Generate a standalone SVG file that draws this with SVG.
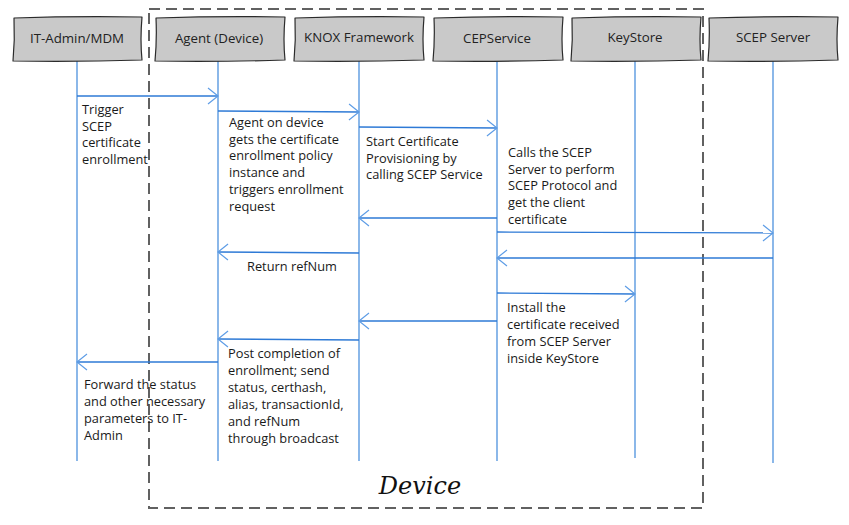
<svg xmlns="http://www.w3.org/2000/svg" width="849" height="525" viewBox="0 0 849 525">
<style>
.hdr{fill:#c9c9c9;stroke:#2b2b2b;stroke-width:1.2;stroke-linejoin:round}
.ht{font-family:"Open Sans","Noto Sans",sans-serif;font-size:13.3px;fill:#222;text-anchor:middle}
.life{stroke:#6ea6e4;stroke-width:1.6;fill:none}
.msg{stroke:#2e7ad6;stroke-width:1.3;fill:none;marker-end:url(#ah)}
.lbl{font-family:"Open Sans","Noto Sans",sans-serif;font-size:12.8px;fill:#1a1a1a}
.dev{fill:none;stroke:#616161;stroke-width:2;stroke-dasharray:11 6}
.devt{font-family:"Segoe Print","Comic Sans MS","DejaVu Serif",cursive;font-size:24px;font-style:italic;fill:#111;text-anchor:middle}
</style>
<defs>
<marker id="ah" markerUnits="userSpaceOnUse" markerWidth="14" markerHeight="18" viewBox="0 0 14 18" refX="11" refY="9" orient="auto">
<path d="M1,1 L11,9 L1,17" fill="none" stroke="#5e9de6" stroke-width="1.2"/>
</marker>
</defs>
<rect class="dev" x="149" y="9" width="554" height="499"/>
<text class="devt" x="420" y="494">Device</text>
<g id="lifelines">
<line class="life" x1="77" y1="61" x2="77" y2="461"/>
<line class="life" x1="218" y1="61" x2="218" y2="461"/>
<line class="life" x1="359" y1="61" x2="359" y2="461"/>
<line class="life" x1="497" y1="61" x2="497" y2="461"/>
<line class="life" x1="635" y1="61" x2="635" y2="458"/>
<line class="life" x1="773" y1="61" x2="773" y2="463"/>
</g>
<g id="n-itadmin"><path class="hdr" d="M14,18 Q75,16 142,17 Q140,40 142,60 Q77,62 13,61 Q15,40 14,18 Z"/><text class="ht" x="77" y="43">IT-Admin/MDM</text></g>
<g id="n-agent"><path class="hdr" d="M156,18 Q220,16 285,17 Q283,40 285,60 Q220,62 155,61 Q157,40 156,18 Z"/><text class="ht" x="219" y="43">Agent (Device)</text></g>
<g id="n-knox"><path class="hdr" d="M295,18 Q360,16 424,17 Q422,40 424,60 Q360,62 294,61 Q296,40 295,18 Z"/><text class="ht" x="359" y="42">KNOX Framework</text></g>
<g id="n-cep"><path class="hdr" d="M434,18 Q498,16 563,17 Q561,40 563,60 Q498,62 433,61 Q435,40 434,18 Z"/><text class="ht" x="497" y="43">CEPService</text></g>
<g id="n-keystore"><path class="hdr" d="M572,18 Q636,16 701,17 Q699,40 701,60 Q636,62 571,61 Q573,40 572,18 Z"/><text class="ht" x="635" y="42">KeyStore</text></g>
<g id="n-scep"><path class="hdr" d="M709,18 Q773,16 838,17 Q836,40 838,60 Q773,62 708,61 Q710,40 709,18 Z"/><text class="ht" x="773" y="42">SCEP Server</text></g>
<g id="connectors">
<line class="msg" x1="77" y1="96" x2="218" y2="96"/>
<line class="msg" x1="218" y1="111" x2="359" y2="112"/>
<line class="msg" x1="359" y1="127" x2="497" y2="128"/>
<line class="msg" x1="497" y1="218" x2="359" y2="218"/>
<line class="msg" x1="497" y1="232" x2="773" y2="233"/>
<line class="msg" x1="359" y1="253" x2="218" y2="252"/>
<line class="msg" x1="773" y1="258" x2="497" y2="258"/>
<line class="msg" x1="497" y1="293" x2="635" y2="294"/>
<line class="msg" x1="497" y1="321" x2="359" y2="321"/>
<line class="msg" x1="359" y1="340" x2="218" y2="339"/>
<line class="msg" x1="218" y1="362" x2="77" y2="362"/>
</g>
<g id="labels">
<text class="lbl" x="82" y="114"><tspan x="82">Trigger</tspan><tspan x="82" dy="16.7">SCEP</tspan><tspan x="82" dy="16.7">certificate</tspan><tspan x="82" dy="16.7">enrollment</tspan></text>
<text class="lbl" x="229" y="127"><tspan x="229">Agent on device</tspan><tspan x="229" dy="16.7">gets the certificate</tspan><tspan x="229" dy="16.7">enrollment policy</tspan><tspan x="229" dy="16.7">instance and</tspan><tspan x="229" dy="16.7">triggers enrollment</tspan><tspan x="229" dy="16.7">request</tspan></text>
<text class="lbl" x="247" y="271">Return refNum</text>
<text class="lbl" x="366" y="146"><tspan x="366">Start Certificate</tspan><tspan x="366" dy="16.7">Provisioning by</tspan><tspan x="366" dy="16.7">calling SCEP Service</tspan></text>
<text class="lbl" x="508" y="157"><tspan x="508">Calls the SCEP</tspan><tspan x="508" dy="16.7">Server to perform</tspan><tspan x="508" dy="16.7">SCEP Protocol and</tspan><tspan x="508" dy="16.7">get the client</tspan><tspan x="508" dy="16.7">certificate</tspan></text>
<text class="lbl" x="507" y="312"><tspan x="507">Install the</tspan><tspan x="507" dy="16.9">certificate received</tspan><tspan x="507" dy="16.9">from SCEP Server</tspan><tspan x="507" dy="16.9">inside KeyStore</tspan></text>
<text class="lbl" x="228" y="358"><tspan x="228">Post completion of</tspan><tspan x="228" dy="16.9">enrollment; send</tspan><tspan x="228" dy="16.9">status, certhash,</tspan><tspan x="228" dy="16.9">alias, transactionId,</tspan><tspan x="228" dy="16.9">and refNum</tspan><tspan x="228" dy="16.9">through broadcast</tspan></text>
<text class="lbl" x="84" y="389"><tspan x="84">Forward the status</tspan><tspan x="84" dy="17">and other necessary</tspan><tspan x="84" dy="17">parameters to IT-</tspan><tspan x="84" dy="17">Admin</tspan></text>
</g>
</svg>
